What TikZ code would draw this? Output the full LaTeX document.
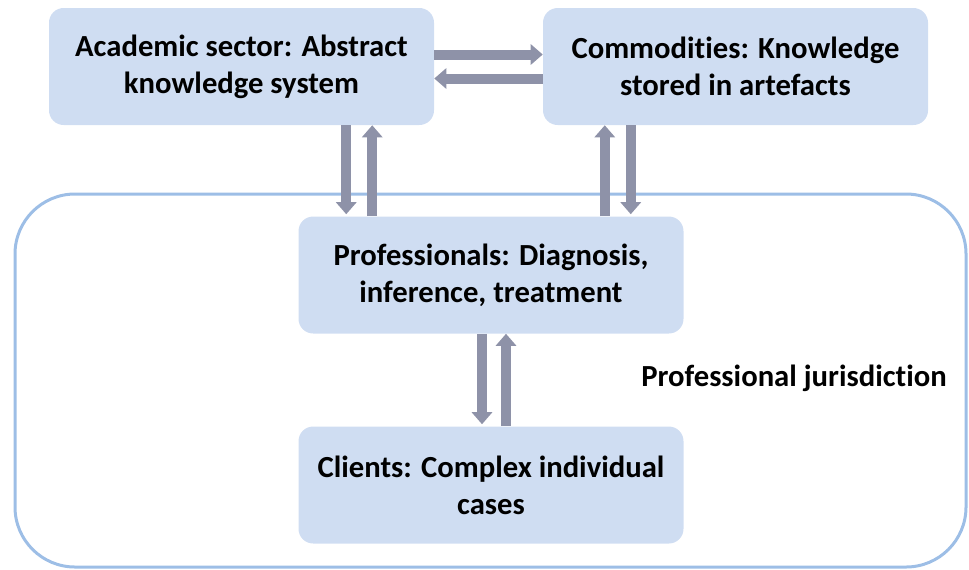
\documentclass[tikz,border=0pt]{standalone}
\usepackage{fontspec}
\setmainfont{Carlito}[Ligatures={NoCommon}]
\usepackage{tikz}
\usetikzlibrary{arrows.meta}
\definecolor{boxfill}{HTML}{CFDDF2}
\definecolor{framecolor}{HTML}{9DBEE6}
\definecolor{arrowcolor}{HTML}{8E92A8}
\tikzstyle{sectorbox} = [
    fill=boxfill,
    rectangle,
    rounded corners=11pt,
    minimum width=288.75pt,
    minimum height=87.75pt,
    align=center,
    font=\fontsize{23}{27.75}\selectfont\bfseries
    ]
\tikzstyle{flow} = [
    draw=arrowcolor,
    line width=7.5pt,
    -{Triangle[length=9pt,width=15pt]}
    ]
\tikzstyle{juris} = [
    draw=framecolor,
    line width=2.25pt,
    rounded corners=45pt
    ]

\begin{document}
\begin{tikzpicture}[x=0.75pt,y=-0.75pt]
\useasboundingbox (0,0) rectangle (969,569);
% jurisdiction frame
\draw[juris] (15,194) rectangle (966,567);
\node[font=\fontsize{23}{27}\selectfont\bfseries] (jlabel) at (794,378) {Professional jurisdiction};
% boxes
\node[sectorbox] (acad) at (241.5,66.5) {Academic sector: Abstract\\knowledge system};
\node[sectorbox] (comm) at (735.5,66.5) {Commodities: Knowledge\\stored in artefacts};
\node[sectorbox] (prof) at (491,275) {Professionals: Diagnosis,\\inference, treatment};
\node[sectorbox] (client) at (491,485) {Clients: Complex individual\\cases};
% top pair
\draw[flow] ([yshift=9pt]acad.east) -- ([yshift=9pt]comm.west);
\draw[flow] ([yshift=-9pt]comm.west) -- ([yshift=-9pt]acad.east);
% academic <-> professionals
\draw[flow] ([xshift=36pt]prof.north west |- acad.south) -- ([xshift=36pt,yshift=1.5pt]prof.north west);
\draw[flow] ([xshift=55.5pt]prof.north west) -- ([xshift=55.5pt]prof.north west |- acad.south);
% commodities <-> professionals
\draw[flow] ([xshift=-59.25pt]prof.north east) -- ([xshift=-59.25pt]prof.north east |- comm.south);
\draw[flow] ([xshift=-39.75pt]prof.north east |- comm.south) -- ([xshift=-39.75pt,yshift=1.5pt]prof.north east);
% professionals <-> clients
\draw[flow] ([xshift=-6.75pt]prof.south) -- ([xshift=-6.75pt,yshift=1.5pt]client.north);
\draw[flow] ([xshift=11.25pt]client.north) -- ([xshift=11.25pt]prof.south);
\end{tikzpicture}
\end{document}
